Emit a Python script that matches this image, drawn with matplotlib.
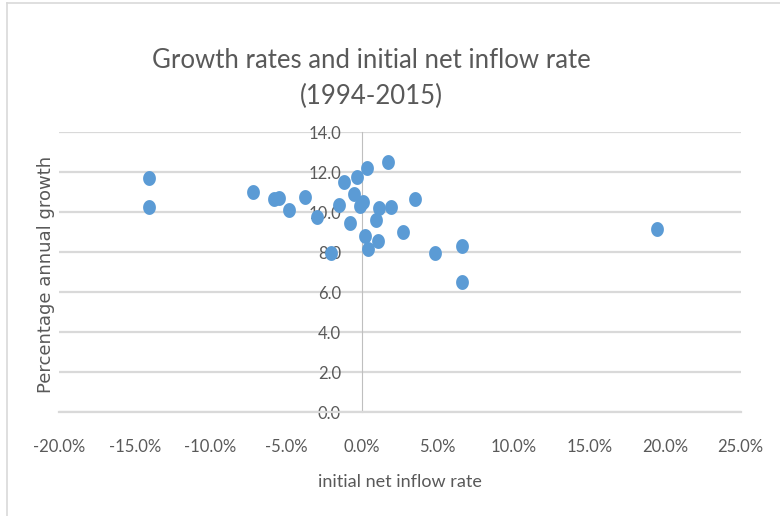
import matplotlib
matplotlib.use("Agg")
import matplotlib.pyplot as plt
from matplotlib.lines import Line2D
from matplotlib.path import Path
from matplotlib.ticker import FuncFormatter, MultipleLocator
import numpy as np

# initial net inflow rate (%) and average annual growth (%)
inflow = [-14.04, -14.04, -7.17, -5.79, -5.50, -4.82, -3.78, -2.95, -2.05, -1.50,
          -1.19, -0.79, -0.51, -0.33, -0.13, 0.05, 0.33, 0.21, 0.38, 0.90,
          1.10, 1.09, 1.74, 1.91, 2.69, 3.50, 4.82, 6.60, 6.60, 19.49]
growth = [11.70, 10.25, 11.00, 10.65, 10.70, 10.10, 10.78, 9.75, 7.98, 10.37,
          11.50, 9.48, 10.90, 11.74, 10.32, 10.53, 12.20, 8.83, 8.16, 9.60,
          10.20, 8.55, 12.50, 10.25, 9.00, 10.67, 7.95, 8.32, 6.53, 9.18]

title = "Growth rates and initial net inflow rate\n(1994-2015)"
xlabel = "initial net inflow rate"
ylabel = "Percentage annual growth"

txt = "#595959"
grid = "#d9d9d9"
blue = "#5b9bd5"
narrow = ["Lato", "DejaVu Sans"]

# slightly tall oval marker
t = np.linspace(0, 2 * np.pi, 40)
oval = Path(np.column_stack([0.86 * np.cos(t), np.sin(t)]), closed=True)

fig = plt.figure(figsize=(7.8, 5.16), dpi=100)
ax = fig.add_axes([0.0756, 0.201, 0.874, 0.5426])

ax.scatter(inflow, growth, s=115, marker=oval, color=blue, zorder=3, linewidths=0)

ax.set_xlim(-20, 25)
ax.set_ylim(0, 14)
ax.xaxis.set_major_locator(MultipleLocator(5))
ax.yaxis.set_major_locator(MultipleLocator(2))
ax.xaxis.set_major_formatter(FuncFormatter(lambda v, p: f"{v:.1f}%"))
ax.yaxis.set_major_formatter(FuncFormatter(lambda v, p: f"{v:.1f}"))

ax.grid(axis="y", color=grid, lw=1.6, zorder=0)
ax.set_axisbelow(True)
for side in ("top", "right"):
    ax.spines[side].set_visible(False)
ax.spines["left"].set_position(("data", 0))
ax.spines["left"].set_color("#bfbfbf")
ax.spines["bottom"].set_color(grid)
ax.spines["bottom"].set_linewidth(1.6)
ax.tick_params(length=0, colors=txt, labelsize=12)
ax.tick_params(axis="x", pad=19)
ax.tick_params(axis="y", pad=15)
for lab in ax.get_xticklabels() + ax.get_yticklabels():
    lab.set_family(narrow)

ax.set_xlabel(xlabel, color=txt, fontsize=13, family=narrow, labelpad=14)
fig.text(0.059, 0.469, ylabel, rotation=90, color=txt, fontsize=13,
         ha="center", va="center")
fig.text(0.476, 0.848, title, color=txt, fontsize=18.5, family=narrow,
         ha="center", va="center", linespacing=1.55)

# chart frame
fig.add_artist(Line2D([0.009, 0.009], [0, 0.994], transform=fig.transFigure,
                      color=grid, lw=1.2))
fig.add_artist(Line2D([0.009, 1], [0.994, 0.994], transform=fig.transFigure,
                      color=grid, lw=1.2))

fig.savefig("out.png", dpi=100)
